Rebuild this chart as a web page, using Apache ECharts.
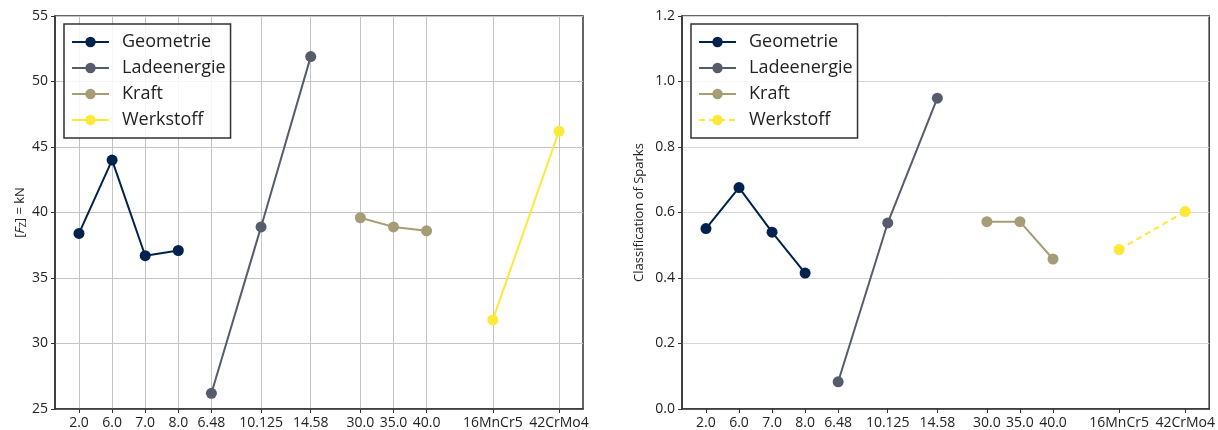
<!DOCTYPE html>
<html>
<head>
<meta charset="utf-8">
<script src="https://cdn.jsdelivr.net/npm/echarts@6/dist/echarts.min.js"></script>
<style>
html,body{margin:0;padding:0;background:#fff;}
#chart{width:1218px;height:430px;}
</style>
</head>
<body>
<div id="chart"></div>
<script>
// ---- data ----
const tickLabels = ['2.0','6.0','7.0','8.0','6.48','10.125','14.58','30.0','35.0','40.0','16MnCr5','42CrMo4'];
// slot of each tick label along the x axis (axis layout)
const tickSlots = [0, 1, 2, 3, 4, 5.5, 7, 8.5, 9.5, 10.5, 12.5, 14.5];
const seriesNames = ['Geometrie', 'Ladeenergie', 'Kraft', 'Werkstoff'];
const seriesStart = [0, 4, 7, 10]; // first tick label index of each series

// Left panel: [F_Z] = kN
const forceGeometrie   = [38.4, 44.0, 36.7, 37.1];
const forceLadeenergie = [26.2, 38.9, 51.9];
const forceKraft       = [39.6, 38.9, 38.6];
const forceWerkstoff   = [31.8, 46.2];

// Right panel: Classification of Sparks
const sparkGeometrie   = [0.551, 0.676, 0.540, 0.415];
const sparkLadeenergie = [0.083, 0.568, 0.949];
const sparkKraft       = [0.572, 0.572, 0.458];
const sparkWerkstoff   = [0.487, 0.603];

const leftTicksY = [25, 30, 35, 40, 45, 50, 55];
const rightTicksY = [0.0, 0.2, 0.4, 0.6, 0.8, 1.0, 1.2];

// ---- styling ----
const colors = ['#00224e', '#575c6d', '#a69d75', '#fee838'];
const FONT = 'Open Sans';
const frame = '#333333';

function toData(vals, start) {
  return vals.map((v, i) => [tickSlots[start + i], v]);
}
const leftVals = [forceGeometrie, forceLadeenergie, forceKraft, forceWerkstoff];
const rightVals = [sparkGeometrie, sparkLadeenergie, sparkKraft, sparkWerkstoff];

const series = [];
[leftVals, rightVals].forEach((set, panel) => {
  set.forEach((vals, k) => {
    series.push({
      type: 'line',
      name: seriesNames[k],
      xAxisIndex: panel,
      yAxisIndex: panel,
      data: toData(vals, seriesStart[k]),
      symbol: 'circle',
      symbolSize: 11,
      color: colors[k],
      itemStyle: { color: colors[k] },
      lineStyle: { color: colors[k], width: 2, type: (panel === 1 && k === 3) ? [6, 4] : 'solid' },
      emphasis: { disabled: true },
      animation: false,
      z: 3
    });
  });
});

function xAxis(gridIndex, showSplit) {
  return {
    type: 'value', gridIndex,
    min: -0.725, max: 15.225,
    axisLine: { show: true, onZero: false, lineStyle: { color: frame, width: 1.5 } },
    axisTick: { show: true, customValues: tickSlots, length: 4, lineStyle: { color: frame, width: 1 } },
    axisLabel: {
      customValues: tickSlots,
      formatter: v => { const i = tickSlots.indexOf(v); return i >= 0 ? tickLabels[i] : ''; },
      fontFamily: FONT, fontSize: 14, color: '#222', margin: 7
    },
    splitLine: { show: showSplit, lineStyle: { color: '#c4c4c4', width: 1 } }
  };
}

function yAxis(gridIndex, ticks, interval, name, nameGap, fmt, rich, splitColor) {
  return {
    type: 'value', gridIndex,
    min: ticks[0], max: ticks[ticks.length - 1], interval,
    name, nameLocation: 'middle', nameGap, nameRotate: 90,
    nameTextStyle: { fontFamily: FONT, fontSize: 13, color: '#222', rich },
    axisLine: { show: true, onZero: false, lineStyle: { color: frame, width: 1.5 } },
    axisTick: { show: true, length: 4, lineStyle: { color: frame, width: 1 } },
    axisLabel: { fontFamily: FONT, fontSize: 14, color: '#222', margin: 7, formatter: fmt },
    splitLine: { show: true, lineStyle: { color: splitColor, width: 1 } }
  };
}

function legend(left, dashedLast) {
  return {
    left, top: 24,
    orient: 'vertical',
    itemWidth: 37, itemHeight: 13,
    itemGap: 8, itemTextGap: 14,
    padding: [9, 5, 9, 7],
    borderColor: frame, borderWidth: 1.5, borderRadius: 0,
    backgroundColor: 'rgba(255,255,255,0.85)',
    textStyle: { fontFamily: FONT, fontSize: 18, color: '#222', padding: [0, 0, 0, 8] },
    selectedMode: false,
    data: seriesNames.map((n, k) => ({
      name: n,
      lineStyle: { color: colors[k], width: 2, type: (dashedLast && k === 3) ? [6, 4] : 'solid' },
      itemStyle: { color: colors[k] }
    }))
  };
}

const option = {
  backgroundColor: '#fff',
  animation: false,
  grid: [
    { left: 55, right: 635, top: 16, bottom: 21, show: true, borderColor: frame, borderWidth: 1.5 },
    { left: 682, right: 8, top: 16, bottom: 21, show: true, borderColor: frame, borderWidth: 1.5 }
  ],
  xAxis: [xAxis(0, true), xAxis(1, false)],
  yAxis: [
    yAxis(0, leftTicksY, 5, '[{i|F}{s|Z}] = kN', 27, v => String(v),
      { i: { fontStyle: 'italic', fontFamily: FONT, fontSize: 13, color: '#222' },
        s: { fontFamily: FONT, fontSize: 9, color: '#222', verticalAlign: 'bottom', padding: [6, 0, 0, 0] } },
      '#c4c4c4'),
    yAxis(1, rightTicksY, 0.2, 'Classification of Sparks', 36, v => v.toFixed(1), undefined, '#d6d6d6')
  ],
  legend: [legend(64, false), legend(691, true)],
  series
};

const chart = echarts.init(document.getElementById('chart'), null, { renderer: 'canvas' });
chart.setOption(option);
</script>
</body>
</html>
